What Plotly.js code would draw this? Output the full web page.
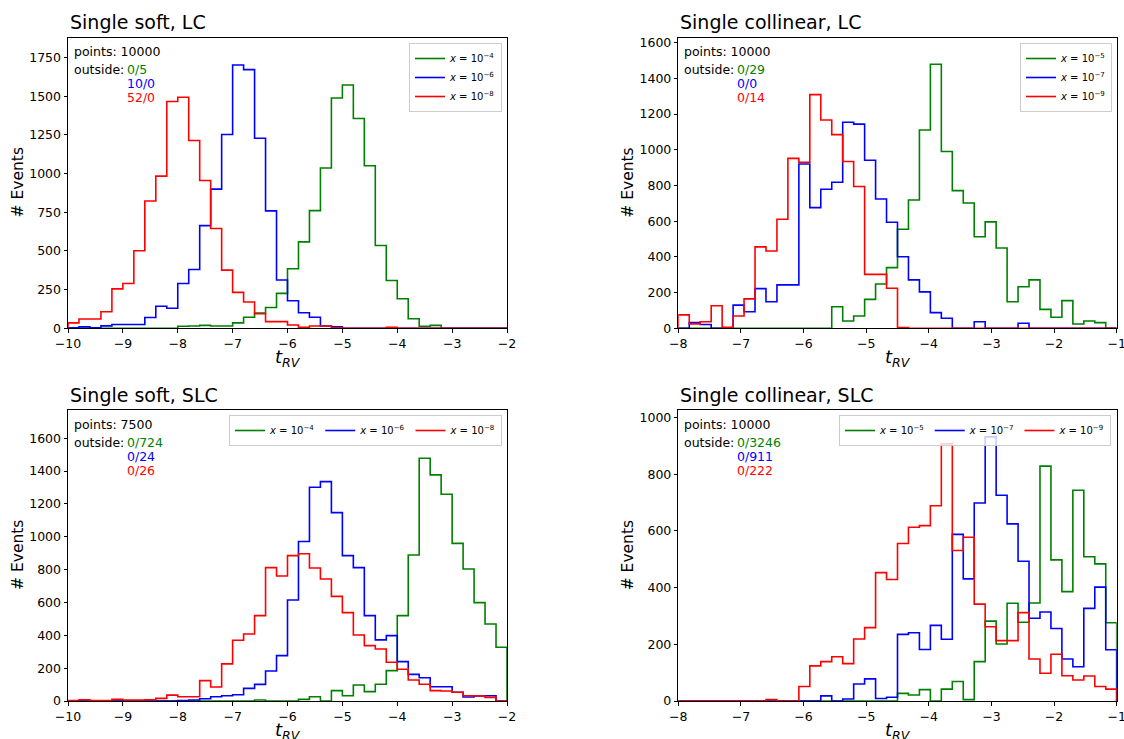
<!DOCTYPE html>
<html>
<head>
<meta charset="utf-8">
<script src="https://cdn.plot.ly/plotly-3.0.1.min.js"></script>
<style>
  html, body { margin: 0; padding: 0; background: #ffffff; }
  #chart { width: 1124px; height: 739px; }
</style>
</head>
<body>
<div id="chart"></div>
<script>
// Histograms of t_RV, 40 bins per panel.
const nBins = 40;

// Panel titles and bin ranges
const panelTitles = ["Single soft, LC", "Single collinear, LC", "Single soft, SLC", "Single collinear, SLC"];
const binRanges = [[-10, -2], [-8, -1], [-10, -2], [-8, -1]];
const pointCounts = ["10000", "10000", "7500", "10000"];

// Series labels (x values) per panel
const softLabels = ["−4", "−6", "−8"];
const collLabels = ["−5", "−7", "−9"];

// Single soft, LC
const softLC_g = [0,0,0,0,0,0,0,0,0,0, 13,15,19,15,15,35,71,99,134,226, 385,559,761,1036,1489,1573,1356,1051,535,309, 191,62,13,19,0,0,0,0,0,0];
const softLC_b = [4,9,4,16,25,25,25,70,143,130, 290,380,664,900,1253,1702,1672,1229,759,312, 178,101,71,15,10,0,0,0,0,0, 0,0,0,0,0,0,0,0,0,0];
const softLC_r = [35,60,60,107,255,290,501,823,984,1466, 1494,1214,956,645,376,232,170,94,43,43, 21,6,15,15,4,0,0,0,0,6, 0,0,0,0,0,0,0,0,0,0];

// Single collinear, LC
const collLC_g = [0,0,0,0,0,0,0,0,0,0, 0,0,0,0,121,41,69,162,248,340, 555,719,1111,1479,990,771,702,513,596,450, 149,233,271,106,62,155,24,41,32,0];
const collLC_b = [0,32,21,0,0,130,93,222,149,243, 243,920,676,779,818,1154,1144,941,724,594, 401,271,204,88,56,0,0,37,0,0, 0,28,0,0,0,0,0,0,0,0];
const collLC_r = [75,25,37,126,6,69,165,456,433,611, 952,930,1309,1167,1085,934,794,302,302,224, 4,0,0,0,0,0,0,0,0,0, 0,0,0,0,0,0,0,0,0,0];

// Single soft, SLC
const softSLC_g = [0,0,0,0,0,0,0,0,0,0, 0,0,0,0,0,0,0,6,0,0, 0,10,26,0,63,32,97,57,102,185, 520,889,1478,1377,1259,960,804,599,469,327];
const softSLC_b = [0,0,0,0,0,0,0,0,0,0, 2,6,14,26,32,38,77,101,183,276, 615,971,1302,1336,1147,885,812,520,372,398, 240,162,142,87,87,53,24,30,32,0];
const softSLC_r = [3,8,2,2,10,6,6,8,16,36, 26,26,124,85,226,370,408,520,812,761, 885,897,810,743,637,538,402,337,317,236, 193,128,102,63,61,53,32,30,22,0];

// Single collinear, SLC
const collSLC_g = [0,0,0,0,0,0,0,0,0,0, 0,0,0,0,0,0,0,0,0,0, 27,21,40,0,42,69,5,139,282,201, 345,278,346,829,498,386,744,509,484,276];
const collSLC_b = [0,0,0,0,0,0,0,0,0,0, 0,0,0,18,0,7,60,78,9,13, 235,241,182,267,218,588,431,699,932,726, 625,493,292,314,256,148,121,327,402,181];
const collSLC_r = [0,0,0,0,0,0,0,0,5,0, 0,51,124,139,156,132,219,259,453,429, 556,613,619,689,908,531,578,342,262,213, 213,312,148,98,165,89,74,88,51,42];

// Out-of-range counts (below/above), per series
const outsideLC_soft = ["0/5", "10/0", "52/0"];
const outsideLC_coll = ["0/29", "0/0", "0/14"];
const outsideSLC_soft = ["0/724", "0/24", "0/26"];
const outsideSLC_coll = ["0/3246", "0/911", "0/222"];

const panels = [
  { series: [softLC_g, softLC_b, softLC_r], labels: softLabels, outside: outsideLC_soft },
  { series: [collLC_g, collLC_b, collLC_r], labels: collLabels, outside: outsideLC_coll },
  { series: [softSLC_g, softSLC_b, softSLC_r], labels: softLabels, outside: outsideSLC_soft },
  { series: [collSLC_g, collSLC_b, collSLC_r], labels: collLabels, outside: outsideSLC_coll }
];

const colors = ["#008000", "#0000ff", "#ff0000"];
const FONT = "DejaVu Sans, Liberation Sans, sans-serif";

// Step outline of a histogram: up from zero at the first edge, down to zero at the last
function stepOutline(counts, lo, hi) {
  const w = (hi - lo) / nBins;
  const xs = [lo], ys = [0];
  for (let k = 0; k < counts.length; k++) { xs.push(lo + k * w); ys.push(counts[k]); }
  xs.push(hi); ys.push(0);
  return { xs, ys };
}

const W = 1124, H = 739;
// pixel boxes of the four axes: [left, right, top, bottom]
const boxes = [[68, 507, 37.5, 328.3], [678.3, 1116.7, 37.5, 328.3], [68, 507, 410, 701], [678.3, 1116.7, 410, 701]];
const yRanges = [[0, 1880], [0, 1629], [0, 1772], [0, 1027]];
const yDtick = [250, 200, 200, 200];

const traces = [];
const annotations = [];
const layout = {
  width: W, height: H,
  margin: { l: 0, r: 0, t: 0, b: 0 },
  paper_bgcolor: "#ffffff", plot_bgcolor: "#ffffff",
  font: { family: FONT, color: "#000000", size: 12.5 },
  showlegend: true
};

panels.forEach((p, i) => {
  const n = i + 1;
  const xa = n === 1 ? "x" : "x" + n;
  const ya = n === 1 ? "y" : "y" + n;
  const [lo, hi] = binRanges[i];
  const [L, R, T, B] = boxes[i];
  const legendName = n === 1 ? "legend" : "legend" + n;

  p.series.forEach((counts, j) => {
    const s = stepOutline(counts, lo, hi);
    traces.push({
      type: "scatter", mode: "lines",
      x: s.xs, y: s.ys, xaxis: xa, yaxis: ya,
      line: { color: colors[j], width: 1.6, shape: "hv" },
      name: "<i>x</i> = 10<sup>" + p.labels[j] + "</sup>",
      legend: legendName,
      hoverinfo: "x+y"
    });
  });

  const axisCommon = {
    showline: true, linecolor: "#000000", linewidth: 1, mirror: true,
    ticks: "outside", ticklen: 3.5, tickwidth: 1, tickcolor: "#000000",
    showgrid: false, zeroline: false, layer: "above traces",
    ticklabeloverflow: "allow",
    tickfont: { family: FONT, size: 12.5, color: "#000000" }
  };
  layout["xaxis" + (n === 1 ? "" : n)] = Object.assign({}, axisCommon, {
    domain: [L / W, R / W], range: [lo, hi], dtick: 1, tick0: lo,
    anchor: ya
  });
  layout["yaxis" + (n === 1 ? "" : n)] = Object.assign({}, axisCommon, {
    domain: [(H - B) / H, (H - T) / H], range: yRanges[i], dtick: yDtick[i], tick0: 0,
    anchor: xa
  });

  const horizontal = i >= 2;
  layout[legendName] = {
    x: (horizontal ? (i === 2 ? 502 : 1111) : (i === 0 ? 502 : 1112)) / W,
    y: (H - (horizontal ? 415 : 43)) / H,
    xanchor: "right", yanchor: "top",
    orientation: horizontal ? "h" : "v",
    bgcolor: "rgba(255,255,255,0.8)", bordercolor: "#cccccc", borderwidth: 1,
    font: { family: FONT, size: 10, color: "#000000" },
    tracegroupgap: 0
  };

  const xd = xa + " domain", yd = ya + " domain";
  // panel title
  annotations.push({
    text: panelTitles[i], xref: xd, yref: yd, x: 0, y: 1, xanchor: "left", yanchor: "middle",
    yshift: 15, showarrow: false, font: { family: FONT, size: 19, color: "#000000" }
  });
  // y axis label
  annotations.push({
    text: "# Events", xref: "paper", yref: yd, x: (L - 50.5) / W, y: 0.5, xanchor: "center", yanchor: "middle",
    textangle: -90, showarrow: false, font: { family: FONT, size: 15.5, color: "#000000" }
  });
  // x axis label
  annotations.push({
    text: "<i>t</i><sub><i>RV</i></sub>", xref: xd, yref: yd, x: 0.5, y: 0, xanchor: "center", yanchor: "middle",
    yshift: -29.5, showarrow: false, font: { family: FONT, size: 18, color: "#000000" }
  });
  // sample info
  annotations.push({
    text: "points: " + pointCounts[i], xref: xd, yref: yd, x: 0, y: 1, xanchor: "left", yanchor: "middle",
    xshift: 4, yshift: -14.5, showarrow: false, font: { family: FONT, size: 12.5, color: "#000000" }
  });
  annotations.push({
    text: "outside:", xref: xd, yref: yd, x: 0, y: 1, xanchor: "left", yanchor: "middle",
    xshift: 4, yshift: -32, showarrow: false, font: { family: FONT, size: 12.5, color: "#000000" }
  });
  const lineShift = [-32, -46, -60.5];
  p.outside.forEach((txt, j) => {
    annotations.push({
      text: txt, xref: xd, yref: yd, x: 0, y: 1, xanchor: "left", yanchor: "middle",
      xshift: 57, yshift: lineShift[j], showarrow: false, font: { family: FONT, size: 12.5, color: colors[j] }
    });
  });
});

layout.annotations = annotations;

Plotly.newPlot("chart", traces, layout, { displayModeBar: false, staticPlot: true });
</script>
</body>
</html>
